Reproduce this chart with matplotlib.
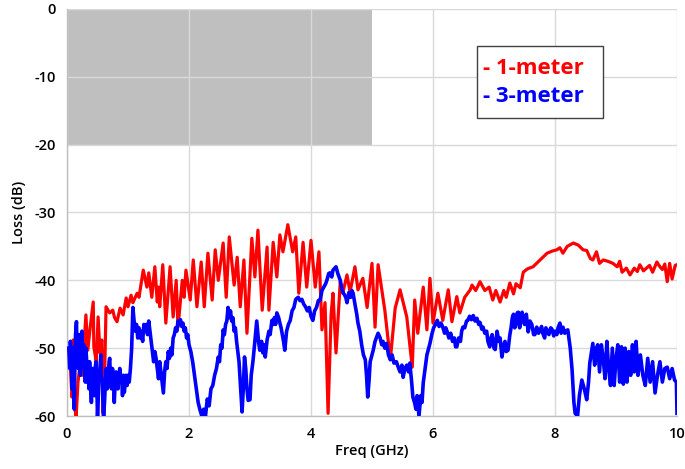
import matplotlib
matplotlib.use("Agg")
import matplotlib.pyplot as plt
from matplotlib.patches import Rectangle

plt.rcParams['font.family'] = ['Open Sans', 'DejaVu Sans']
plt.rcParams['axes.unicode_minus'] = False

# ---- data ----
red_x = [0.05, 0.08, 0.10, 0.13, 0.15, 0.18, 0.21, 0.25, 0.31, 0.34, 0.38, 0.43, 0.44, 0.48,
         0.51, 0.54, 0.57, 0.59, 0.61, 0.64, 0.70, 0.75, 0.78, 0.82, 0.87, 0.92, 0.97, 1.00,
         1.05, 1.08, 1.15, 1.18, 1.25, 1.31, 1.34, 1.39, 1.44, 1.48, 1.50, 1.52, 1.57, 1.62,
         1.69, 1.74, 1.79, 1.82, 1.89, 1.92, 1.95, 2.02, 2.07, 2.13, 2.20, 2.25, 2.31, 2.38,
         2.43, 2.48, 2.56, 2.61, 2.66, 2.74, 2.79, 2.84, 2.90, 2.95, 3.03, 3.08, 3.13, 3.20,
         3.28, 3.31, 3.38, 3.44, 3.49, 3.54, 3.62, 3.70, 3.75, 3.80, 3.87, 3.93, 4.00, 4.07,
         4.13, 4.18, 4.23, 4.28, 4.33, 4.36, 4.41, 4.48, 4.52, 4.59, 4.64, 4.72, 4.77, 4.85,
         4.92, 5.00, 5.05, 5.10, 5.21, 5.30, 5.38, 5.46, 5.57, 5.66, 5.70, 5.75, 5.84, 5.90,
         5.95, 6.00, 6.08, 6.16, 6.25, 6.31, 6.39, 6.44, 6.52, 6.61, 6.64, 6.70, 6.77, 6.85,
         6.92, 6.98, 7.03, 7.10, 7.16, 7.20, 7.26, 7.32, 7.36, 7.43, 7.48, 7.55, 7.64, 7.72,
         7.80, 7.87, 7.95, 8.03, 8.08, 8.13, 8.20, 8.30, 8.38, 8.46, 8.52, 8.58, 8.62, 8.68,
         8.73, 8.79, 8.87, 8.95, 9.02, 9.06, 9.10, 9.17, 9.23, 9.30, 9.35, 9.39, 9.45, 9.50,
         9.55, 9.60, 9.67, 9.72, 9.76, 9.80, 9.84, 9.88, 9.92, 9.97, 10.0]
red_y = [-51.3, -57.2, -48.8, -59.0, -60.0, -55.0, -52.8, -54.0, -45.1, -50.3, -47.0, -43.2, -49.8, -52.0,
         -45.4, -50.7, -48.8, -59.6, -57.0, -43.9, -44.8, -44.4, -45.5, -46.1, -44.1, -45.1, -42.6, -43.9,
         -42.2, -43.3, -41.9, -42.5, -38.5, -41.0, -38.9, -42.5, -38.0, -43.2, -41.0, -43.9, -37.7, -46.3,
         -38.0, -45.4, -40.0, -46.9, -40.0, -42.5, -38.5, -42.9, -37.0, -43.9, -37.3, -43.9, -36.0, -42.9,
         -35.5, -40.0, -34.5, -42.5, -33.6, -40.7, -36.6, -43.9, -37.0, -47.8, -33.8, -39.5, -32.6, -44.4,
         -35.1, -44.4, -34.4, -39.5, -33.3, -35.8, -31.8, -35.8, -33.6, -41.9, -34.4, -41.0, -34.1, -41.0,
         -35.8, -47.3, -43.3, -59.6, -45.0, -41.9, -50.7, -40.2, -41.9, -39.2, -41.7, -38.0, -41.4, -39.7,
         -44.0, -37.5, -46.9, -37.7, -44.4, -51.7, -44.1, -41.4, -45.4, -52.8, -42.9, -47.8, -41.0, -47.3,
         -39.7, -46.3, -41.9, -45.9, -41.4, -46.1, -42.4, -44.8, -42.5, -41.4, -40.7, -41.5, -40.2, -41.5,
         -41.0, -42.9, -41.5, -43.2, -41.5, -42.5, -40.4, -42.0, -40.5, -41.1, -38.8, -38.3, -38.0, -37.3,
         -36.6, -36.0, -35.7, -35.5, -35.2, -36.0, -35.0, -34.5, -34.8, -35.5, -35.6, -36.8, -37.0, -35.8,
         -37.5, -37.0, -37.2, -37.5, -38.0, -37.2, -38.8, -38.2, -39.2, -38.2, -38.7, -37.7, -38.6, -38.2,
         -37.8, -38.8, -37.3, -38.0, -38.4, -37.6, -40.2, -37.5, -39.8, -37.8, -37.7]

blue_x = [0.03, 0.045, 0.055, 0.07, 0.08, 0.09, 0.10, 0.11, 0.12, 0.13, 0.14, 0.155, 0.165, 0.175,
          0.185, 0.20, 0.21, 0.22, 0.235, 0.245, 0.255, 0.265, 0.275, 0.29, 0.30, 0.31, 0.32, 0.335,
          0.35, 0.36, 0.37, 0.385, 0.40, 0.41, 0.42, 0.435, 0.45, 0.46, 0.475, 0.49, 0.50, 0.51,
          0.52, 0.54, 0.555, 0.565, 0.58, 0.59, 0.60, 0.615, 0.63, 0.645, 0.66, 0.675, 0.69, 0.70,
          0.715, 0.73, 0.745, 0.76, 0.775, 0.79, 0.805, 0.82, 0.835, 0.85, 0.865, 0.88, 0.895, 0.91,
          0.925, 0.94, 0.955, 0.97, 0.985, 1.00, 1.02, 1.04, 1.06,
          1.08, 1.10, 1.12, 1.14, 1.16, 1.18, 1.20, 1.22, 1.24, 1.26, 1.28, 1.30, 1.32, 1.34,
          1.36, 1.38, 1.40, 1.42, 1.44, 1.46, 1.48, 1.50, 1.52, 1.54, 1.56, 1.58, 1.60, 1.62,
          1.64, 1.66, 1.68, 1.70, 1.72, 1.74, 1.76, 1.78, 1.80, 1.82, 1.84, 1.86, 1.88, 1.90,
          1.92, 1.94, 1.96, 1.98, 2.00, 2.03, 2.06, 2.09, 2.12, 2.15, 2.18, 2.21, 2.24, 2.27,
          2.30, 2.33, 2.36, 2.39, 2.42, 2.45, 2.48, 2.50, 2.52, 2.54, 2.56, 2.58, 2.60, 2.62,
          2.64, 2.66, 2.68, 2.70, 2.72, 2.74, 2.76, 2.78, 2.80, 2.82, 2.84, 2.86, 2.87, 2.89,
          2.91, 2.93, 2.95, 2.97, 3.00, 3.02, 3.05, 3.08, 3.11, 3.14, 3.16, 3.19, 3.21, 3.23,
          3.25, 3.28, 3.31, 3.33, 3.36, 3.38, 3.40, 3.42, 3.44, 3.47, 3.49, 3.51, 3.53, 3.55,
          3.57, 3.60, 3.63, 3.66, 3.69, 3.72, 3.75, 3.79, 3.82, 3.85, 3.88, 3.91, 3.94, 3.97,
          4.00, 4.03, 4.06, 4.09, 4.12, 4.15, 4.18, 4.21, 4.24, 4.26, 4.29, 4.31, 4.34, 4.36,
          4.39, 4.41, 4.44, 4.46, 4.48, 4.51, 4.54, 4.57, 4.59, 4.62, 4.65, 4.67, 4.69, 4.72,
          4.75, 4.77, 4.80, 4.83, 4.86, 4.89, 4.91, 4.93, 4.95, 4.97, 5.00, 5.02, 5.05, 5.07,
          5.10, 5.13, 5.16, 5.18, 5.21, 5.24, 5.27, 5.30, 5.33, 5.36, 5.40, 5.43, 5.46, 5.49,
          5.51, 5.54, 5.57, 5.60, 5.62, 5.65, 5.67, 5.70, 5.72, 5.74, 5.77, 5.80, 5.82, 5.84,
          5.87, 5.90, 5.93, 5.95, 5.98, 6.01, 6.04, 6.07, 6.10, 6.13, 6.16, 6.19, 6.21, 6.23,
          6.26, 6.29, 6.32, 6.35, 6.37, 6.39, 6.42, 6.45, 6.47, 6.49, 6.52, 6.55, 6.57, 6.60,
          6.63, 6.66, 6.69, 6.72, 6.75, 6.77, 6.80, 6.82, 6.85, 6.88, 6.90, 6.93, 6.95, 6.97,
          7.00, 7.02, 7.05, 7.08, 7.10, 7.13, 7.16, 7.18, 7.20, 7.23, 7.26, 7.28, 7.30, 7.32,
          7.34, 7.36, 7.38, 7.40, 7.42, 7.43, 7.46, 7.48, 7.50, 7.53, 7.56, 7.59, 7.62, 7.65,
          7.67, 7.70, 7.73, 7.75, 7.78, 7.80, 7.83, 7.85, 7.88, 7.90, 7.93, 7.95, 7.98, 8.00,
          8.03, 8.05, 8.08, 8.10, 8.13, 8.16, 8.18, 8.21, 8.25, 8.28, 8.31, 8.33,
          8.37, 8.40, 8.44, 8.48, 8.52, 8.55, 8.57, 8.60, 8.62, 8.65, 8.68, 8.70, 8.73, 8.76,
          8.79, 8.82, 8.85, 8.88, 8.91, 8.94, 8.97, 9.00, 9.03, 9.06, 9.09, 9.12, 9.15, 9.18,
          9.21, 9.24, 9.27, 9.30, 9.33, 9.36, 9.40, 9.44, 9.48, 9.52, 9.56, 9.60, 9.64, 9.68,
          9.72, 9.76, 9.80, 9.84, 9.88, 9.92, 9.96, 9.99, 10.0]
blue_y = [-50.0, -53.0, -49.0, -51.0, -56.0, -52.0, -50.0, -57.0, -59.0, -52.0, -48.0, -46.1, -51.0, -49.0,
          -53.0, -48.0, -52.0, -54.0, -49.0, -47.5, -51.0, -53.0, -49.5, -52.0, -55.0, -50.0, -51.5, -55.0,
          -53.0, -56.0, -52.0, -54.5, -58.0, -54.0, -53.0, -56.0, -57.0, -53.0, -52.0, -56.0, -60.0, -58.0,
          -55.0, -53.0, -51.0, -54.0, -55.0, -58.0, -60.0, -58.0, -55.0, -53.0, -56.0, -54.5, -52.0, -51.5,
          -55.0, -56.0, -53.0, -54.0, -58.0, -55.0, -53.5, -54.0, -56.0, -54.5, -53.0, -55.0, -54.0, -57.0,
          -54.0, -56.5, -55.0, -54.0, -55.5, -54.0, -55.0, -53.0, -50.0,
          -44.0, -46.0, -47.5, -46.5, -48.5, -47.0, -48.5, -47.5, -49.0, -46.5, -47.5, -46.5, -48.0, -46.0,
          -47.5, -49.0, -50.5, -52.0, -50.5, -51.5, -53.0, -54.5, -52.0, -53.5, -55.0, -56.6, -53.5, -52.0,
          -53.0, -50.5, -51.5, -50.0, -51.0, -48.5, -48.0, -47.0, -47.5, -46.0, -46.5, -45.8, -46.8, -46.3,
          -47.5, -47.0, -48.5, -48.0, -49.5, -50.5, -52.0, -54.0, -56.0, -58.0, -59.1, -60.0, -59.0, -60.0,
          -57.5, -58.5, -56.0, -55.5, -54.0, -53.0, -51.3, -52.0, -49.5, -50.0, -47.3, -48.0, -46.5, -46.0,
          -44.0, -45.5, -44.5, -46.0, -45.5, -47.5, -47.0, -49.0, -50.5, -52.0, -55.0, -58.0, -59.4, -56.0,
          -51.3, -53.0, -56.0, -57.7, -57.6, -54.0, -51.8, -49.0, -46.0, -49.0, -50.3, -49.0, -50.7, -49.5,
          -51.3, -48.8, -47.5, -48.0, -45.9, -46.5, -45.5, -46.5, -44.8, -45.5, -46.3, -47.0, -48.0, -49.0,
          -50.3, -47.5, -46.5, -45.9, -44.5, -44.0, -42.8, -42.5, -43.0, -42.8, -43.5, -43.9, -44.5, -44.0,
          -45.3, -45.9, -44.5, -44.0, -43.0, -42.9, -41.5, -41.0, -40.5, -40.0, -39.0, -38.9, -39.5, -38.5,
          -38.2, -38.0, -39.0, -39.5, -40.0, -41.5, -42.0, -42.5, -43.3, -41.8, -42.5, -41.5, -41.9, -43.5,
          -45.0, -46.3, -47.5, -49.5, -51.0, -51.7, -54.0, -57.2, -55.0, -52.0, -51.0, -50.3, -49.0, -48.5,
          -47.8, -48.4, -49.5, -49.0, -50.0, -49.3, -51.0, -51.7, -51.0, -52.2, -52.0, -52.8, -53.5, -52.5,
          -54.3, -53.0, -52.5, -53.5, -52.2, -55.0, -57.2, -58.1, -59.0, -57.0, -60.0, -57.0, -58.0, -55.1,
          -53.0, -51.0, -50.0, -49.3, -48.0, -47.0, -46.5, -45.9, -46.8, -46.3, -46.9, -47.8, -47.0, -47.5,
          -48.5, -47.8, -49.0, -48.5, -49.8, -49.8, -48.5, -49.0, -47.5, -46.9, -47.0, -46.0, -45.9, -45.3,
          -45.8, -45.2, -46.0, -45.6, -46.5, -46.2, -47.2, -46.9, -47.8, -47.5, -49.0, -49.8, -48.5, -48.0,
          -50.0, -50.2, -47.5, -49.0, -48.5, -51.3, -49.5, -49.0, -50.5, -50.3, -48.0, -47.0, -45.5, -45.0,
          -47.0, -46.5, -44.8, -44.7, -47.0, -46.5, -44.7, -45.5, -46.5, -45.0, -47.6, -46.0, -46.5, -48.0,
          -48.0, -46.9, -47.8, -47.5, -46.8, -47.8, -48.5, -47.0, -47.5, -48.0, -47.0, -47.2, -48.2, -47.5,
          -48.0, -47.0, -46.3, -47.8, -46.9, -47.8, -47.5, -47.3, -50.0, -53.2, -58.0, -59.6,
          -60.0, -57.0, -54.7, -56.0, -57.6, -55.0, -52.2, -50.5, -49.3, -52.5, -50.0, -49.5, -53.5, -49.5,
          -51.5, -54.5, -49.0, -53.0, -55.5, -50.0, -55.5, -51.5, -49.5, -55.0, -49.8, -55.3, -50.0, -55.0,
          -50.5, -54.0, -49.5, -53.5, -49.0, -54.0, -51.0, -54.0, -55.5, -51.5, -55.0, -52.0, -56.6, -54.0,
          -52.0, -55.0, -53.0, -52.8, -54.5, -53.0, -54.7, -55.0, -59.6]

x_ticks = [0, 2, 4, 6, 8, 10]
y_ticks = [-60, -50, -40, -30, -20, -10, 0]
mask_x = [0, 5]
mask_y = [-20, 0]
series_labels = ['- 1-meter', '- 3-meter']
series_colors = ['#ff0000', '#0000ff']

# ---- figure ----
fig = plt.figure(figsize=(6.85, 4.69), dpi=100)
ax = fig.add_axes([67/685, 1-416/469, 610/685, 407/469])

ax.add_patch(Rectangle((mask_x[0], mask_y[0]), mask_x[1]-mask_x[0], mask_y[1]-mask_y[0],
                       facecolor='#bfbfbf', edgecolor='none', zorder=1))

ax.plot(red_x, red_y, color=series_colors[0], lw=2.3, zorder=3, solid_joinstyle='round')
ax.plot(blue_x, blue_y, color=series_colors[1], lw=2.6, zorder=3, solid_joinstyle='round')

ax.set_xlim(0, 10)
ax.set_ylim(-60, 0)
ax.set_xticks(x_ticks)
ax.set_yticks(y_ticks)
ax.set_xticklabels([str(v) for v in x_ticks])
ax.set_yticklabels([str(v) for v in y_ticks])
ax.grid(True, color='#d9d9d9', lw=1.0, zorder=1.5)
ax.set_axisbelow('line')
for s in ['top', 'right']:
    ax.spines[s].set_visible(False)
for s in ['left', 'bottom']:
    ax.spines[s].set_color('#bfbfbf')
    ax.spines[s].set_linewidth(1.0)
ax.tick_params(length=0, labelsize=10.5, pad=8)
for lab in ax.get_xticklabels() + ax.get_yticklabels():
    lab.set_fontweight('semibold')
ax.set_xlabel('Freq (GHz)', fontsize=10.5, fontweight='semibold', labelpad=2)
ax.set_ylabel('Loss (dB)', fontsize=10.5, fontweight='semibold', labelpad=6)

# legend box
lx0, lx1 = (477-67)/610, (603-67)/610
ly0, ly1 = 1-(118-9)/407, 1-(46-9)/407
ax.add_patch(Rectangle((lx0, ly0), lx1-lx0, ly1-ly0, transform=ax.transAxes,
                       facecolor='white', edgecolor='#404040', lw=1.0, zorder=5))
ax.text((483-67)/610, 1-(68-9)/407, series_labels[0], color=series_colors[0], transform=ax.transAxes,
        fontsize=16, fontweight='bold', va='center', ha='left', zorder=6)
ax.text((483-67)/610, 1-(97-9)/407, series_labels[1], color=series_colors[1], transform=ax.transAxes,
        fontsize=16, fontweight='bold', va='center', ha='left', zorder=6)

fig.savefig('out.png', dpi=100)
